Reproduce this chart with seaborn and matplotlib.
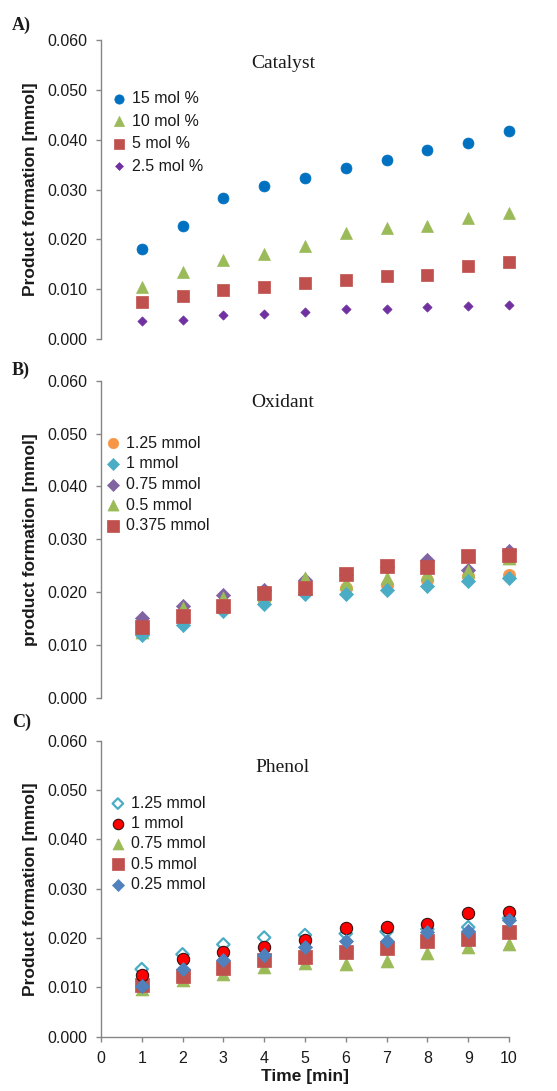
import numpy as np
import pandas as pd
import matplotlib
matplotlib.use("Agg")
import matplotlib.pyplot as plt
import seaborn as sns

# ---------------- data ----------------
time_min = [1, 2, 3, 4, 5, 6, 7, 8, 9, 10]
x_ticks = [0, 1, 2, 3, 4, 5, 6, 7, 8, 9, 10]
y_ticks = [0.000, 0.010, 0.020, 0.030, 0.040, 0.050, 0.060]

# Panel A: Catalyst
cat_labels = ["15 mol %", "10 mol %", "5 mol %", "2.5 mol %"]
cat_15 = [0.0180, 0.0226, 0.0283, 0.0308, 0.0324, 0.0343, 0.0360, 0.0380, 0.0393, 0.0418]
cat_10 = [0.0104, 0.0134, 0.0159, 0.0171, 0.0186, 0.0212, 0.0223, 0.0227, 0.0242, 0.0253]
cat_5 = [0.0075, 0.0086, 0.0098, 0.0104, 0.0113, 0.0119, 0.0126, 0.0129, 0.0146, 0.0155]
cat_2_5 = [0.0037, 0.0039, 0.0049, 0.0050, 0.0054, 0.0060, 0.0060, 0.0064, 0.0067, 0.0069]

# Panel B: Oxidant
ox_labels = ["1.25 mmol", "1 mmol", "0.75 mmol", "0.5 mmol", "0.375 mmol"]
ox_125 = [0.0123, 0.0145, 0.0169, 0.0185, 0.0204, 0.0207, 0.0213, 0.0223, 0.0230, 0.0233]
ox_1 = [0.0119, 0.0138, 0.0165, 0.0177, 0.0196, 0.0197, 0.0204, 0.0211, 0.0220, 0.0226]
ox_075 = [0.0150, 0.0174, 0.0194, 0.0204, 0.0223, 0.0233, 0.0247, 0.0261, 0.0242, 0.0278]
ox_05 = [0.0125, 0.0169, 0.0188, 0.0194, 0.0226, 0.0218, 0.0226, 0.0235, 0.0240, 0.0265]
ox_0375 = [0.0133, 0.0155, 0.0174, 0.0198, 0.0207, 0.0235, 0.0249, 0.0247, 0.0268, 0.0270]

# Panel C: Phenol
ph_labels = ["1.25 mmol", "1 mmol", "0.75 mmol", "0.5 mmol", "0.25 mmol"]
ph_125 = [0.0137, 0.0167, 0.0187, 0.0201, 0.0206, 0.0209, 0.0213, 0.0218, 0.0222, 0.0240]
ph_1 = [0.0125, 0.0157, 0.0171, 0.0181, 0.0197, 0.0220, 0.0222, 0.0228, 0.0251, 0.0253]
ph_075 = [0.0096, 0.0115, 0.0128, 0.0141, 0.0150, 0.0147, 0.0154, 0.0169, 0.0182, 0.0188]
ph_05 = [0.0105, 0.0123, 0.0139, 0.0155, 0.0161, 0.0172, 0.0180, 0.0193, 0.0199, 0.0213]
ph_025 = [0.0103, 0.0137, 0.0155, 0.0166, 0.0181, 0.0193, 0.0194, 0.0212, 0.0215, 0.0236]

# ---------------- style ----------------
sns.set_style("white")
plt.rcParams["font.family"] = ["Liberation Sans", "DejaVu Sans"]
SPINE = "#868686"
TXT = "#1a1a1a"

W, H = 557, 1091
fig = plt.figure(figsize=(W / 100, H / 100), dpi=100)

def px_axes(top, bottom, left=100.9, right=509.0):
    return [left / W, 1 - bottom / H, (right - left) / W, (bottom - top) / H]

axA = fig.add_axes(px_axes(40, 339))
axB = fig.add_axes(px_axes(380.7, 697.7))
axC = fig.add_axes(px_axes(740.7, 1036.7))

def draw(ax, series):
    for vals, lab, mk, face, edge, s, lw in series:
        df = pd.DataFrame({"t": time_min, "v": vals})
        sns.scatterplot(data=df, x="t", y="v", marker=mk, s=s, color=face,
                        edgecolor=edge, linewidth=lw, ax=ax, label=lab,
                        clip_on=False, zorder=3, legend=False)

def style(ax, ylabel, title, tx, ty, show_x):
    ax.set_xlim(0, 10)
    ax.set_ylim(0, 0.060)
    ax.set_yticks(y_ticks)
    ax.set_yticklabels([f"{v:.3f}" for v in y_ticks], fontsize=11.5, color=TXT)
    for sp in ["top", "right"]:
        ax.spines[sp].set_visible(False)
    ax.spines["left"].set_color(SPINE)
    ax.spines["left"].set_linewidth(1.0)
    ax.tick_params(axis="y", direction="out", length=3.5, width=1.0,
                   color=SPINE, pad=6.5, left=True)
    if show_x:
        ax.spines["bottom"].set_color(SPINE)
        ax.spines["bottom"].set_linewidth(1.0)
        ax.set_xticks(x_ticks)
        ax.set_xticklabels([str(v) for v in x_ticks], fontsize=11.5, color=TXT)
        ax.tick_params(axis="x", direction="out", length=3.5, width=1.0,
                       color=SPINE, pad=7, bottom=True)
        ax.set_xlabel("Time [min]", fontsize=12.5, fontweight="bold", color=TXT, labelpad=2)
    else:
        ax.spines["bottom"].set_visible(False)
        ax.set_xticks([])
        ax.set_xlabel("")
    ax.set_ylabel(ylabel, fontsize=12.5, fontweight="bold", color=TXT)
    ax.yaxis.set_label_coords(-0.154, 0.5)
    ax.text(tx, ty, title, transform=ax.transAxes, ha="center", va="center",
            family=["Liberation Serif"], fontsize=14, color=TXT)

# Panel A
draw(axA, [
    (cat_15, cat_labels[0], "o", "#0070C0", "#0070C0", 62, 0.5),
    (cat_10, cat_labels[1], "^", "#9BBB59", "#9BBB59", 74, 0.5),
    (cat_5, cat_labels[2], "s", "#C0504D", "#C0504D", 78, 0.5),
    (cat_2_5, cat_labels[3], "D", "#7030A0", "#7030A0", 22, 0.5),
])
style(axA, "Product formation [mmol]", "Catalyst", 0.446, 0.923, False)

# Panel B (draw order: orange, purple, green, teal, red)
draw(axB, [
    (ox_125, ox_labels[0], "o", "#F79646", "#F79646", 78, 0.5),
    (ox_075, ox_labels[2], "D", "#8064A2", "#8064A2", 52, 0.5),
    (ox_05, ox_labels[3], "^", "#9BBB59", "#9BBB59", 88, 0.5),
    (ox_1, ox_labels[1], "D", "#4BACC6", "#4BACC6", 52, 0.5),
    (ox_0375, ox_labels[4], "s", "#C0504D", "#C0504D", 100, 0.5),
])
style(axB, "product formation [mmol]", "Oxidant", 0.446, 0.930, False)

# Panel C (draw order: green, square, open diamond, red, blue)
draw(axC, [
    (ph_075, ph_labels[2], "^", "#9BBB59", "#9BBB59", 86, 0.5),
    (ph_05, ph_labels[3], "s", "#C0504D", "#C0504D", 88, 0.5),
    (ph_125, ph_labels[0], "D", "none", "#4BACC6", 40, 1.6),
    (ph_1, ph_labels[1], "o", "#FF0000", "#3a1010", 78, 0.8),
    (ph_025, ph_labels[4], "D", "#4F81BD", "#4F81BD", 52, 0.5),
])
style(axC, "Product formation [mmol]", "Phenol", 0.446, 0.911, True)

def make_legend(ax, order, anchor, spacing):
    handles, labels = ax.get_legend_handles_labels()
    lut = dict(zip(labels, handles))
    leg = ax.legend([lut[l] for l in order], order, loc="upper left",
                    bbox_to_anchor=anchor, frameon=False, fontsize=11.5,
                    handlelength=1.0, handletextpad=0.3, borderpad=0,
                    borderaxespad=0, labelspacing=spacing, markerscale=0.85,
                    scatterpoints=1)
    for t in leg.get_texts():
        t.set_color(TXT)

make_legend(axA, cat_labels, (0.025, 0.829), 0.47)
make_legend(axB, ox_labels, (0.010, 0.827), 0.355)
make_legend(axC, ph_labels, (0.022, 0.814), 0.33)

# Panel letters
for lab, yy in [("A)", 25), ("B)", 370), ("C)", 722)]:
    fig.text(12 / W, 1 - yy / H, lab, ha="left", va="center",
             family=["Liberation Serif"], fontweight="bold", fontsize=13, color=TXT)

fig.savefig("out.png", dpi=100)
